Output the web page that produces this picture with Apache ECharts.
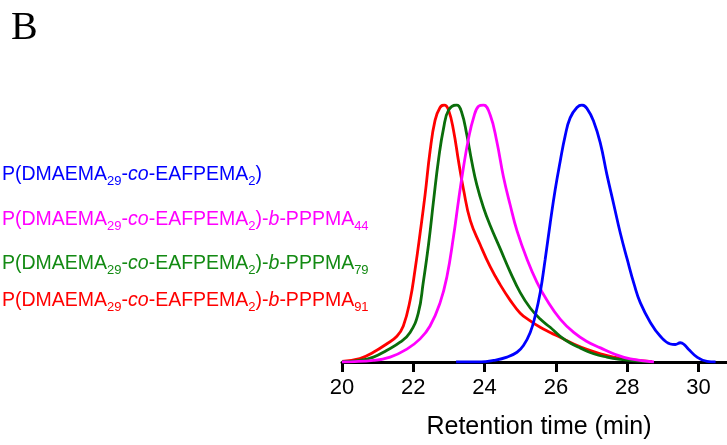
<!DOCTYPE html>
<html>
<head>
<meta charset="utf-8">
<script src="https://cdn.jsdelivr.net/npm/echarts@6/dist/echarts.min.js"></script>
<style>html,body{margin:0;padding:0;background:#fff;overflow:hidden}#c{width:727px;height:445px}</style>
</head>
<body>
<div id="c"></div>
<script>
// x tick labels
const xTicks = [20, 22, 24, 26, 28, 30];
// series names (sub/superscript markup built below)
const seriesNames = ['P(DMAEMA29-co-EAFPEMA2)', 'P(DMAEMA29-co-EAFPEMA2)-b-PPPMA44', 'P(DMAEMA29-co-EAFPEMA2)-b-PPPMA79', 'P(DMAEMA29-co-EAFPEMA2)-b-PPPMA91'];
const blockLengths = [null, 44, 79, 91];
// [retention time (min), normalised signal]
const blueData = [[23.2,0.0],[23.9,0.0],[24.25,0.006],[24.63,0.019],[24.91,0.038],[25.09,0.064],[25.28,0.115],[25.42,0.18],[25.56,0.27],[25.7,0.40],[25.84,0.54],[25.98,0.67],[26.12,0.78],[26.26,0.88],[26.4,0.95],[26.59,0.99],[26.73,1.0],[26.87,0.987],[27.06,0.936],[27.25,0.85],[27.43,0.73],[27.62,0.615],[27.81,0.50],[28.0,0.40],[28.2,0.30],[28.37,0.23],[28.65,0.154],[28.93,0.10],[29.21,0.07],[29.35,0.068],[29.49,0.075],[29.6,0.068],[29.72,0.05],[29.96,0.019],[30.24,0.002],[30.48,0.0]];
const magentaData = [[20.0,0.0],[20.88,0.006],[21.35,0.019],[21.82,0.05],[22.19,0.09],[22.47,0.14],[22.75,0.23],[22.94,0.33],[23.13,0.49],[23.27,0.63],[23.41,0.76],[23.55,0.87],[23.69,0.95],[23.83,0.995],[23.97,1.0],[24.16,0.96],[24.34,0.86],[24.53,0.72],[24.72,0.61],[24.91,0.51],[25.19,0.40],[25.47,0.31],[25.75,0.24],[26.12,0.167],[26.5,0.115],[26.87,0.08],[27.25,0.055],[27.62,0.032],[28.09,0.012],[28.75,0.0]];
const greenData = [[20.0,0.001],[20.5,0.006],[20.88,0.019],[21.25,0.045],[21.63,0.077],[21.91,0.115],[22.14,0.19],[22.28,0.31],[22.43,0.46],[22.57,0.63],[22.71,0.79],[22.85,0.91],[22.99,0.98],[23.22,1.0],[23.36,0.97],[23.5,0.885],[23.64,0.78],[23.78,0.69],[23.97,0.60],[24.16,0.53],[24.44,0.44],[24.72,0.35],[25.0,0.27],[25.28,0.21],[25.56,0.167],[25.84,0.135],[26.12,0.10],[26.4,0.074],[26.69,0.054],[27.06,0.032],[27.43,0.019],[27.81,0.01],[28.2,0.004],[28.65,0.0]];
const redData = [[20.0,0.002],[20.5,0.013],[20.88,0.038],[21.25,0.07],[21.54,0.10],[21.72,0.14],[21.91,0.24],[22.05,0.36],[22.19,0.50],[22.33,0.65],[22.47,0.82],[22.61,0.94],[22.75,0.99],[22.87,1.0],[22.99,0.98],[23.13,0.90],[23.27,0.78],[23.41,0.67],[23.6,0.55],[23.88,0.455],[24.16,0.37],[24.44,0.30],[24.72,0.24],[25.0,0.19],[25.28,0.16],[25.56,0.135],[25.84,0.115],[26.12,0.096],[26.5,0.07],[26.87,0.049],[27.25,0.032],[27.62,0.019],[28.09,0.009],[28.7,0.001]];

const lineColors = ['#0000ff', '#ff00ff', '#0b6e0b', '#ff0000'];
const textColors = ['#0000ff', '#ff00ff', '#138a13', '#ff0000'];

const FONT = '"Liberation Sans", Arial, sans-serif';
const rich = {
  m: { fontSize: 19.5, fontFamily: FONT, lineHeight: 26, verticalAlign: 'middle' },
  i: { fontSize: 19.5, fontFamily: FONT, fontStyle: 'italic', lineHeight: 26, verticalAlign: 'middle' },
  s: { fontSize: 13, fontFamily: FONT, lineHeight: 26, verticalAlign: 'bottom' }
};
function labelText(k) {
  let t = '{m|P(DMAEMA}{s|29}{m|-}{i|co}{m|-EAFPEMA}{s|2}{m|)}';
  if (blockLengths[k] !== null) t += '{m|-}{i|b}{m|-PPPMA}{s|' + blockLengths[k] + '}';
  return t;
}
const labelTops = [165, 210, 254, 291];

const chart = echarts.init(document.getElementById('c'), null, { renderer: 'canvas' });
function mkSeries(name, data, color) {
  return {
    name: name, type: 'line', data: data, smooth: 0.45, showSymbol: false, symbol: 'none',
    lineStyle: { color: color, width: 2.8 }, animation: false, z: 3
  };
}
chart.setOption({
  animation: false,
  grid: { left: 342, right: 0, top: 105, bottom: 80, containLabel: false },
  xAxis: {
    type: 'value', min: 20, max: 30.8, interval: 2,
    name: 'Retention time (min)', nameLocation: 'middle', nameGap: 53,
    nameTextStyle: { fontSize: 25, fontFamily: FONT, color: '#000', padding: [0, 0, 0, 9] },
    axisLine: { lineStyle: { color: '#000', width: 3 } },
    axisTick: { show: true, length: 10, customValues: xTicks, lineStyle: { color: '#000', width: 3 } },
    axisLabel: {
      fontSize: 22, fontFamily: FONT, color: '#000', margin: 15, customValues: xTicks
    },
    splitLine: { show: false }
  },
  yAxis: { type: 'value', min: 0, max: 1, show: false },
  series: [
    mkSeries(seriesNames[3], redData, lineColors[3]),
    mkSeries(seriesNames[2], greenData, lineColors[2]),
    mkSeries(seriesNames[1], magentaData, lineColors[1]),
    mkSeries(seriesNames[0], blueData, lineColors[0])
  ],
  graphic: [
    { type: 'text', left: 11, top: 8, style: { text: 'B', fontSize: 40, fontFamily: '"Liberation Serif", "Times New Roman", serif', fill: '#000' } }
  ].concat([0, 1, 2, 3].map(k => ({
    type: 'text', left: 2, top: labelTops[k],
    style: { text: labelText(k), rich: rich, fill: textColors[k] }
  })))
});
</script>
</body>
</html>
